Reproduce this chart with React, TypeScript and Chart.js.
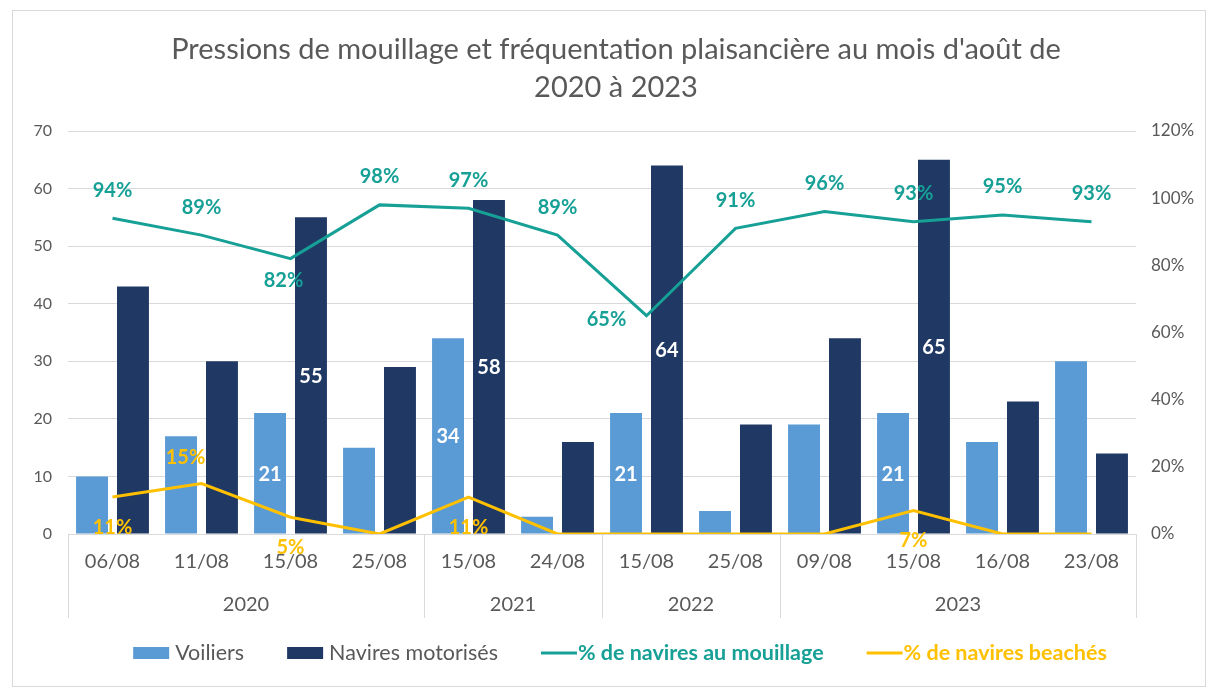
import React, { useEffect, useRef } from "react";
import { Chart, registerables } from "chart.js";

Chart.register(...registerables);

// ---------- DATA ----------
const dates = ["06/08", "11/08", "15/08", "25/08", "15/08", "24/08", "15/08", "25/08", "09/08", "15/08", "16/08", "23/08"];
const years = ["2020", "2021", "2022", "2023"];
const yearSizes = [4, 2, 2, 4];
const voiliers = [10, 17, 21, 15, 34, 3, 21, 4, 19, 21, 16, 30];
const motorises = [43, 30, 55, 29, 58, 16, 64, 19, 34, 65, 23, 14];
const pctMouillage = [94, 89, 82, 98, 97, 89, 65, 91, 96, 93, 95, 93];
const pctBeaches = [11, 15, 5, 0, 11, 0, 0, 0, 0, 7, 0, 0];
const titleLines = ["Pressions de mouillage et fréquentation plaisancière au mois d'août de", "2020 à 2023"];
const seriesNames = ["Voiliers", "Navires motorisés", "% de navires au mouillage", "% de navires beachés"];
const barLabelIndices = [2, 4, 6, 9];

// ---------- STYLE ----------
const FONT = "Lato, 'Open Sans', sans-serif";
const GRAY = "#595959";
const GRID = "#d9d9d9";
const LIGHT = "#5B9BD5";
const NAVY = "#1F3864";
const TEAL = "#16a096";
const GOLD = "#FFC000";

Chart.defaults.font.family = FONT;

const titlePlugin = {
  id: "customTitle",
  afterDraw(chart: any) {
    const ctx = chart.ctx;
    ctx.save();
    ctx.fillStyle = GRAY;
    ctx.font = `29px ${FONT}`;
    ctx.textAlign = "center";
    ctx.textBaseline = "middle";
    titleLines.forEach((t, i) => ctx.fillText(t, 603, 39 + i * 38));
    ctx.restore();
  },
};

const groupAxisPlugin = {
  id: "groupAxis",
  afterDraw(chart: any) {
    const xs = chart.scales.x;
    const ctx = chart.ctx;
    const w = (xs.right - xs.left) / dates.length;
    ctx.save();
    ctx.strokeStyle = GRID;
    ctx.lineWidth = 1;
    ctx.fillStyle = GRAY;
    ctx.font = `20px ${FONT}`;
    ctx.textAlign = "center";
    ctx.textBaseline = "middle";
    let k = 0;
    const bounds = [0];
    yearSizes.forEach((n) => {
      k += n;
      bounds.push(k);
    });
    bounds.forEach((b) => {
      const x = Math.round(xs.left + b * w) + 0.5;
      ctx.beginPath();
      ctx.moveTo(x, xs.top);
      ctx.lineTo(x, xs.top + 84);
      ctx.stroke();
    });
    years.forEach((y, i) => {
      const x0 = xs.left + bounds[i] * w;
      const x1 = xs.left + bounds[i + 1] * w;
      ctx.fillText(y, (x0 + x1) / 2, xs.top + 71);
    });
    ctx.restore();
  },
};

const legendPlugin = {
  id: "customLegend",
  afterDraw(chart: any) {
    const ctx = chart.ctx;
    ctx.save();
    const y = 642;
    const size = 21.5;
    const items = [
      { kind: "box", color: LIGHT, text: seriesNames[0], textColor: GRAY, bold: false },
      { kind: "box", color: NAVY, text: seriesNames[1], textColor: GRAY, bold: false },
      { kind: "line", color: TEAL, text: seriesNames[2], textColor: TEAL, bold: true },
      { kind: "line", color: GOLD, text: seriesNames[3], textColor: GOLD, bold: true },
    ];
    const widths = items.map((it) => {
      ctx.font = `${it.bold ? "bold " : ""}${size}px ${FONT}`;
      return 36 + (it.kind === "box" ? 6 : 1) + ctx.measureText(it.text).width;
    });
    const gap = 43;
    const total = widths.reduce((a, b) => a + b, 0) + gap * (items.length - 1);
    let x = 607 - total / 2;
    ctx.textBaseline = "middle";
    ctx.textAlign = "left";
    items.forEach((it, i) => {
      if (it.kind === "box") {
        ctx.fillStyle = it.color;
        ctx.fillRect(x, y - 6, 36, 12);
      } else {
        ctx.strokeStyle = it.color;
        ctx.lineWidth = 3;
        ctx.beginPath();
        ctx.moveTo(x, y);
        ctx.lineTo(x + 36, y);
        ctx.stroke();
      }
      ctx.font = `${it.bold ? "bold " : ""}${size}px ${FONT}`;
      ctx.fillStyle = it.textColor;
      ctx.fillText(it.text, x + 36 + (it.kind === "box" ? 6 : 1), y);
      x += widths[i] + gap;
    });
    ctx.restore();
  },
};

const labelPlugin = {
  id: "valueLabels",
  afterDatasetsDraw(chart: any) {
    const ctx = chart.ctx;
    ctx.save();
    ctx.textAlign = "center";
    ctx.textBaseline = "middle";
    ctx.font = `bold 20px ${FONT}`;
    chart.data.datasets.forEach((ds: any, di: number) => {
      const meta = chart.getDatasetMeta(di);
      meta.data.forEach((el: any, i: number) => {
        const v = ds.data[i];
        if (ds.type === "bar") {
          if (!barLabelIndices.includes(i)) return;
          ctx.fillStyle = "#ffffff";
          ctx.fillText(String(v), el.x, (el.y + el.base) / 2 + 1);
        } else {
          if (!v) return;
          const place = (ds.labelPlace && ds.labelPlace[i]) || ds.labelDefault;
          ctx.fillStyle = ds.labelColor;
          ctx.fillText(`${v}%`, el.x + place[0], el.y + place[1]);
        }
      });
    });
    ctx.restore();
  },
};

export default function App() {
  const ref = useRef<HTMLCanvasElement>(null);
  useEffect(() => {
    if (!ref.current) return;
    const chart = new Chart(ref.current, {
      data: {
        labels: dates,
        datasets: [
          {
            type: "line",
            label: seriesNames[2],
            data: pctMouillage,
            yAxisID: "y1",
            borderColor: TEAL,
            backgroundColor: TEAL,
            borderWidth: 3,
            pointRadius: 0,
            tension: 0,
            order: 0,
            labelColor: TEAL,
            labelDefault: [0, -28],
            labelPlace: { 2: [-7, 22], 6: [-40, 4] },
          } as any,
          {
            type: "line",
            label: seriesNames[3],
            data: pctBeaches,
            yAxisID: "y1",
            borderColor: GOLD,
            backgroundColor: GOLD,
            borderWidth: 3,
            pointRadius: 0,
            tension: 0,
            order: 0,
            labelColor: GOLD,
            labelDefault: [0, 30],
            labelPlace: { 1: [-16, -26] },
          } as any,
          {
            type: "bar",
            label: seriesNames[0],
            data: voiliers,
            yAxisID: "y",
            backgroundColor: LIGHT,
            categoryPercentage: 0.92,
            barPercentage: 0.78,
            order: 1,
          },
          {
            type: "bar",
            label: seriesNames[1],
            data: motorises,
            yAxisID: "y",
            backgroundColor: NAVY,
            categoryPercentage: 0.92,
            barPercentage: 0.78,
            order: 1,
          },
        ],
      },
      options: {
        responsive: false,
        maintainAspectRatio: false,
        animation: false,
        layout: { padding: { top: 120, bottom: 61, left: 0, right: 0 } },
        plugins: {
          legend: { display: false },
          title: { display: false },
          tooltip: { enabled: false },
        },
        scales: {
          x: {
            type: "category",
            grid: { display: false, drawTicks: false },
            border: { display: true, color: GRID },
            ticks: { color: GRAY, font: { size: 20 }, padding: 16, autoSkip: false, maxRotation: 0 },
            afterFit: (s: any) => {
              s.height = 91;
            },
          },
          y: {
            position: "left",
            min: 0,
            max: 70,
            grid: { color: GRID, drawTicks: false },
            border: { display: false },
            ticks: { stepSize: 10, color: GRAY, font: { size: 16 }, padding: 16 },
            afterFit: (s: any) => {
              s.width = 55;
            },
          },
          y1: {
            position: "right",
            min: 0,
            max: 120,
            grid: { drawOnChartArea: false, drawTicks: false },
            border: { display: false },
            ticks: { stepSize: 20, color: GRAY, font: { size: 17 }, padding: 15, callback: (v: any) => `${v}%` },
            afterFit: (s: any) => {
              s.width = 69;
            },
          },
        },
      } as any,
      plugins: [labelPlugin, groupAxisPlugin, legendPlugin, titlePlugin],
    });
    let alive = true;
    if ((document as any).fonts) {
      Promise.all([
        (document as any).fonts.load(`20px Lato`),
        (document as any).fonts.load(`bold 20px Lato`),
      ]).then(() => {
        if (alive) chart.update();
      }, () => {});
    }
    return () => {
      alive = false;
      chart.destroy();
    };
  }, []);
  return (
    <div
      style={{
        position: "absolute",
        left: 12,
        top: 10,
        width: 1194,
        height: 677,
        border: `1px solid ${GRID}`,
        boxSizing: "border-box",
        background: "#fff",
      }}
    >
      <canvas ref={ref} width={1192} height={675} style={{ display: "block" }} />
    </div>
  );
}
